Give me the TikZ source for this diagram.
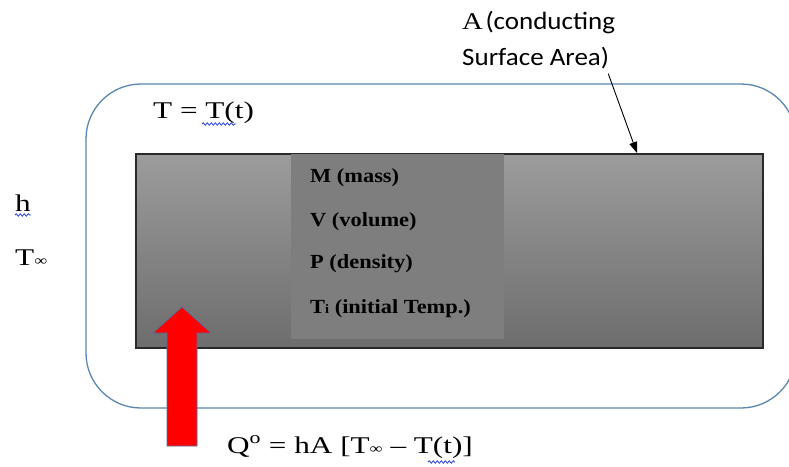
\documentclass[tikz,border=0pt]{standalone}
\usepackage{fontspec}
\setmainfont{Liberation Serif}
\newfontfamily\serifw[FakeStretch=1.3]{Liberation Serif}
\newfontfamily\serifA[FakeStretch=1.2]{Liberation Serif}
\newfontfamily\serifb[FakeStretch=1.12]{Liberation Serif}
\newfontfamily\calw[FakeStretch=1.08]{Carlito}
\usetikzlibrary{decorations.pathmorphing,arrows.meta}
\definecolor{outerc}{HTML}{5B86B2}
\definecolor{boxtop}{HTML}{9C9C9C}
\definecolor{boxbot}{HTML}{6D6D6D}
\definecolor{colc}{HTML}{7E7E7E}
\definecolor{boxedge}{HTML}{2A2A2A}
\definecolor{arredge}{HTML}{4F70A8}
\definecolor{spellc}{HTML}{2A3FE0}
\newcommand{\tinf}{{\fontsize{14}{14}\selectfont ∞}}
\begin{document}
\begin{tikzpicture}[x=1pt,y=-1pt,
  txt/.style={inner sep=0pt, anchor=base west},
  eqfont/.style={font=\serifw\fontsize{24}{28}\selectfont},
  propfont/.style={font=\serifb\bfseries\fontsize{20}{24}\selectfont},
  calfont/.style={font=\calw\fontsize{25}{30}\selectfont},
  spell/.style={draw=spellc, line width=0.8pt, decorate, decoration={snake, amplitude=1.2pt, segment length=4pt}},
  outerbox/.style={draw=outerc, line width=1.3pt, rounded corners=55pt},
  bodybox/.style={draw=boxedge, line width=1.5pt, top color=boxtop, bottom color=boxbot, inner sep=0pt, anchor=north west},
  colbox/.style={fill=colc, inner sep=0pt, anchor=north west},
  heatarrow/.style={fill=red, draw=arredge, line width=0.6pt, line join=miter},
  ptr/.style={draw=black, line width=0.9pt, -{Triangle[length=11pt,width=8pt]}}
]
\useasboundingbox (0,0) rectangle (789,466);
\begin{scope}
\clip (0,0) rectangle (789,466);
\draw[outerbox] (86,84) rectangle (796,408);
\end{scope}

\node[bodybox, minimum width=627pt, minimum height=194pt] (body) at (135,153) {};
\node[colbox, minimum width=213pt, minimum height=185pt] (col) at (291,154) {};

\node[txt, propfont] (m) at (310,182) {M (mass)};
\node[txt, propfont] (v) at (310,226) {V (volume)};
\node[txt, propfont] (p) at (310,268) {P (density)};
\node[txt, propfont] (ti) at (310,313) {T{\fontsize{13}{14}\selectfont i} (initial Temp.)};

\node[txt, eqfont] (tt) at (153,118) {T = T(t)};
\node[txt, eqfont] (h) at (15,211) {h};
\node[txt, eqfont] (tinf) at (15,265) {T\tinf};
\node[txt, eqfont] (q) at (227,453) {Q\textsuperscript{o} = hA [T\tinf\ – T(t)]};

\node[txt] (a1) at (462,29) {{\serifA\fontsize{24}{28}\selectfont A} {\calw\fontsize{25}{30}\selectfont (conducting}};
\node[txt, calfont] (a2) at (462,65) {Surface Area)};

\coordinate (atip) at (637,153);
\draw[ptr] ([shift={(-1,5)}]a2.south east) -- (atip);

\draw[heatarrow] (167,446) -- (167,333) -- (153,333) -- (182,307) -- (211,333) -- (197,333) -- (197,446) -- cycle;

\draw[spell] (202,124) -- (236,124);
\draw[spell] (15,215) -- (31,215);
\draw[spell] (428,462) -- (455,462);
\end{tikzpicture}
\end{document}
